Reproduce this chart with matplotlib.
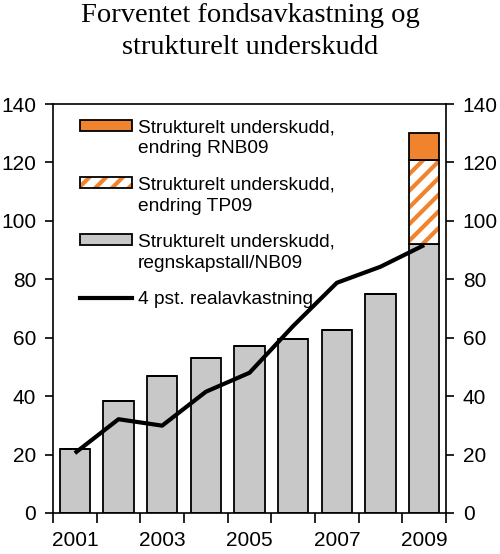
import matplotlib.pyplot as plt
from matplotlib.patches import Patch, Rectangle
from matplotlib.lines import Line2D
from matplotlib.legend_handler import HandlerTuple, HandlerPatch

plt.rcParams['font.family'] = ['Liberation Sans', 'DejaVu Sans']
plt.rcParams['hatch.linewidth'] = 3.0

years = ['2001', '2002', '2003', '2004', '2005', '2006', '2007', '2008', '2009']
underskudd_nb = [22, 38.5, 47, 53, 57.2, 59.4, 62.5, 75, 92.2]
endring_tp = [0, 0, 0, 0, 0, 0, 0, 0, 28.5]
endring_rnb = [0, 0, 0, 0, 0, 0, 0, 0, 9.5]
realavkastning = [20.5, 32.1, 29.9, 41.5, 48, 64, 78.8, 84.3, 91.7]

orange = '#F0842E'
grey = '#C8C8C8'

fig = plt.figure(figsize=(5.0, 5.54), dpi=100)
ax = fig.add_axes([53 / 500, 1 - 513 / 554, 393 / 500, 409 / 554])

x = range(len(years))
w = 0.69
ax.bar(x, underskudd_nb, w, color=grey, edgecolor='black', linewidth=1.3, zorder=2)
base2 = underskudd_nb
ax.bar(x, endring_tp, w, bottom=base2, color='white', edgecolor=orange,
       hatch='//', linewidth=0, zorder=2)
ax.bar(x, endring_tp, w, bottom=base2, fill=False, edgecolor='black',
       linewidth=1.3, zorder=3)
base3 = [a + b for a, b in zip(underskudd_nb, endring_tp)]
ax.bar(x, endring_rnb, w, bottom=base3, color=orange, edgecolor='black',
       linewidth=1.3, zorder=3)
ax.plot(x, realavkastning, color='black', linewidth=3, zorder=4,
        solid_capstyle='butt')

ax.set_xlim(-0.5, len(years) - 0.5)
ax.set_ylim(0, 140)
ax.set_yticks(range(0, 141, 20))
ax.tick_params(axis='y', which='both', labelsize=15, length=6, width=1.2,
               right=True, labelright=True, direction='out', pad=6)
ax.set_xticks([i - 0.5 for i in range(len(years) + 1)])
ax.set_xticklabels([])
ax.set_xticks(list(range(0, len(years), 2)), minor=True)
ax.set_xticklabels(years[::2], minor=True)
ax.tick_params(axis='x', which='major', length=7, width=1.2, direction='out')
ax.tick_params(axis='x', which='minor', length=0, labelsize=15, pad=13)
for s in ax.spines.values():
    s.set_linewidth(1.2)


# put the box level with the first of the two label lines
def top_box(legend, orig_handle, xdescent, ydescent, width, height, fontsize):
    return Rectangle((-xdescent, -ydescent + 0.66 * fontsize), width, height)


h_rnb = Patch(facecolor=orange, edgecolor='black', linewidth=1.3)
h_tp = (Patch(facecolor='white', edgecolor=orange, hatch='//', linewidth=0),
        Patch(fill=False, edgecolor='black', linewidth=1.3))
h_nb = Patch(facecolor=grey, edgecolor='black', linewidth=1.3)
h_line = Line2D([], [], color='black', linewidth=3)
leg = ax.legend([h_rnb, h_tp, h_nb, h_line],
                ['Strukturelt underskudd,\nendring RNB09',
                 'Strukturelt underskudd,\nendring TP09',
                 'Strukturelt underskudd,\nregnskapstall/NB09',
                 '4 pst. realavkastning'],
                handler_map={tuple: HandlerTuple(ndivide=1, pad=0),
                             Patch: HandlerPatch(patch_func=top_box)},
                loc='upper left', bbox_to_anchor=(0.025, 1.005), frameon=False,
                fontsize=13.75, handlelength=2.72, handleheight=0.5,
                handletextpad=0.3, labelspacing=1.0)
for t in leg.get_texts():
    t.set_linespacing(1.32)

fig.text(0.5, 1 - 3 / 554, 'Forventet fondsavkastning og\nstrukturelt underskudd',
         ha='center', va='top', fontsize=20.5, family='Liberation Serif',
         linespacing=1.37)

fig.savefig('out.png', dpi=100)
